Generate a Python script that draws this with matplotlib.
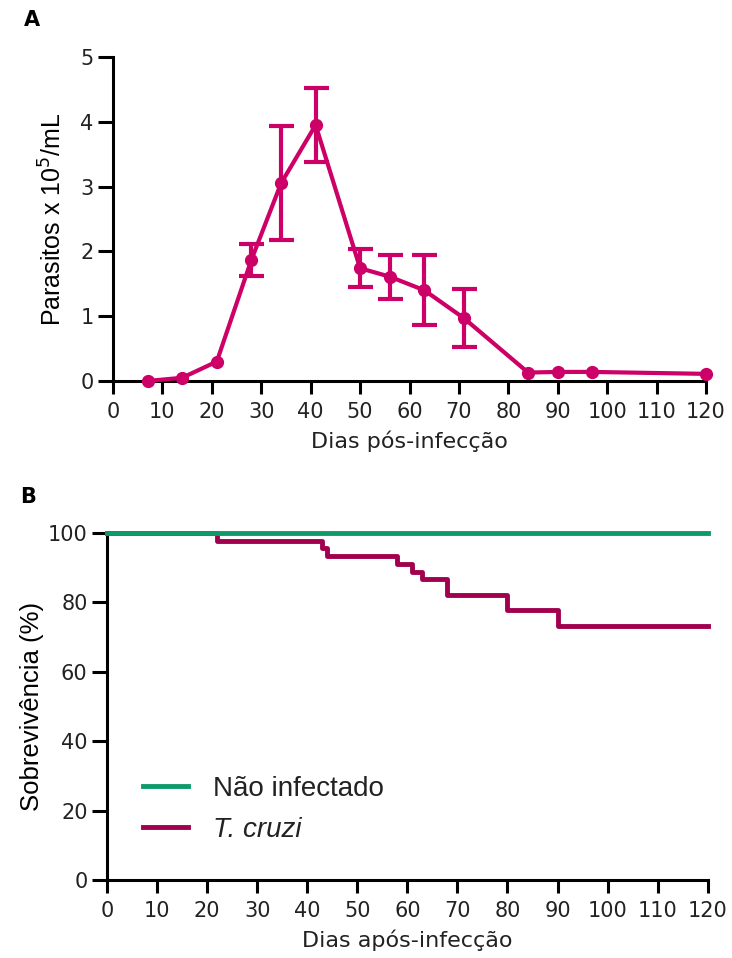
import numpy as np
import matplotlib
matplotlib.use("Agg")
import matplotlib.pyplot as plt

plt.rcParams['font.family'] = ['DejaVu Sans']

# --- Panel A: parasitemia ---
days_a = [7, 14, 21, 28, 34, 41, 50, 56, 63, 71, 84, 90, 97, 120]
parasites = [0.0, 0.05, 0.30, 1.87, 3.05, 3.95, 1.74, 1.61, 1.40, 0.97, 0.13, 0.14, 0.14, 0.11]
parasites_err = [0, 0, 0, 0.25, 0.88, 0.57, 0.29, 0.34, 0.54, 0.45, 0, 0, 0, 0]

# --- Panel B: survival (step times and levels) ---
surv_days_ctrl = [0, 120]
surv_ctrl = [100, 100]
surv_days_tc = [0, 22, 43, 44, 58, 61, 63, 68, 80, 90, 120]
surv_tc = [100, 97.8, 95.6, 93.3, 91.1, 88.9, 86.7, 82.2, 77.8, 73.3, 73.3]

MAGENTA = '#CC0066'
MAROON = '#A0004E'
GREEN = '#0E9A6A'
TXT = '#222222'

fig = plt.figure(figsize=(7.32, 9.58), dpi=100)
ax1 = fig.add_axes([0.1544, 0.6023, 0.8101, 0.3382])
ax2 = fig.add_axes([0.1462, 0.0814, 0.8206, 0.3622])


def style_axis(ax):
    for side in ['top', 'right']:
        ax.spines[side].set_visible(False)
    for side in ['left', 'bottom']:
        ax.spines[side].set_linewidth(2.2)
    ax.tick_params(axis='x', width=2.2, length=9, labelsize=15,
                   labelcolor=TXT, pad=6)
    ax.tick_params(axis='y', width=2.2, length=11, labelsize=15,
                   labelcolor=TXT, pad=3)
    ax.set_xlim(0, 120)
    ax.set_xticks(np.arange(0, 121, 10))


# Panel A
ax1.plot(days_a, parasites, color=MAGENTA, lw=3, marker='o', ms=8.5,
         clip_on=False, zorder=3)
err_idx = [i for i, e in enumerate(parasites_err) if e > 0]
ax1.errorbar([days_a[i] for i in err_idx], [parasites[i] for i in err_idx],
             yerr=[parasites_err[i] for i in err_idx], fmt='none',
             ecolor=MAGENTA, elinewidth=3, capsize=9, capthick=3, zorder=3)
style_axis(ax1)
ax1.set_ylim(0, 5)
ax1.set_yticks(range(0, 6))
ax1.set_xlabel('Dias pós-infecção', fontsize=16, color=TXT, labelpad=6)
ax1.set_ylabel(r'Parasitos x 10$^{5}$/mL', fontsize=18, color='black',
               labelpad=10, family='Liberation Sans')

# Panel B
ax2.step(surv_days_ctrl, surv_ctrl, where='post', color=GREEN, lw=3.5,
         clip_on=False, label='Não infectado', zorder=3)
ax2.step(surv_days_tc, surv_tc, where='post', color=MAROON, lw=3.5,
         clip_on=False, label='T. cruzi', zorder=2)
style_axis(ax2)
ax2.set_ylim(0, 100)
ax2.set_yticks(range(0, 101, 20))
ax2.set_xlabel('Dias após-infecção', fontsize=16, color=TXT, labelpad=6)
ax2.set_ylabel('Sobrevivência (%)', fontsize=18.5, color='black', labelpad=3,
               family='Liberation Sans')
leg = ax2.legend(loc='center left', bbox_to_anchor=(0.06, 0.203), frameon=False,
                 handlelength=1.6, handletextpad=0.9,
                 labelspacing=0.55, borderpad=0, borderaxespad=0,
                 prop={'family': 'Liberation Sans', 'size': 20})
for txt in leg.get_texts():
    txt.set_color(TXT)
leg.get_texts()[1].set_style('italic')

fig.text(0.044, 0.979, 'A', fontsize=15, fontweight='bold', ha='center', va='center')
fig.text(0.038, 0.481, 'B', fontsize=15, fontweight='bold', ha='center', va='center')

fig.savefig('out.png', dpi=100)
